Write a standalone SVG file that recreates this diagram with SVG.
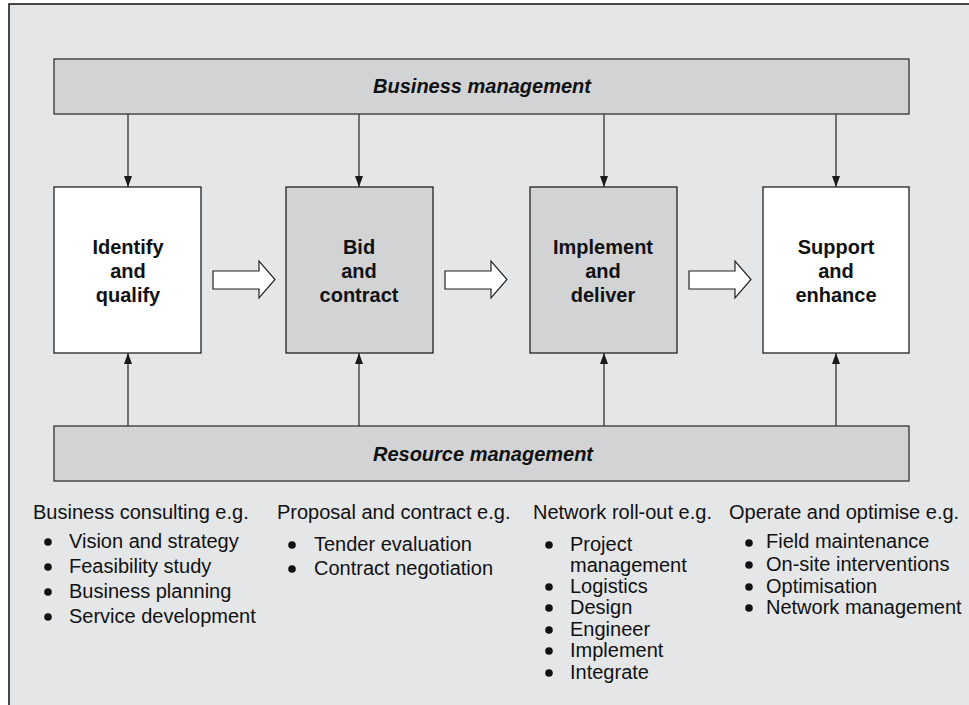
<svg xmlns="http://www.w3.org/2000/svg" width="969" height="705" viewBox="0 0 969 705">
<defs>
<marker id="ah" markerUnits="userSpaceOnUse" markerWidth="12" markerHeight="8" refX="11" refY="4" orient="auto">
<path d="M0,0 L11,4 L0,8 z" fill="#1a1a1a"/>
</marker>
<style>
.bar{fill:#d2d3d5;stroke:#333;stroke-width:1.3}
.box{stroke:#222;stroke-width:1.3}
.w{fill:#ffffff}
.g{fill:#d2d3d5}
.bt{font-family:"Liberation Sans",Arial,sans-serif;font-size:20px;font-weight:bold;text-anchor:middle;fill:#111}
.bi{font-family:"Liberation Sans",Arial,sans-serif;font-size:20px;font-weight:bold;font-style:italic;text-anchor:middle;fill:#111}
.t{font-family:"Liberation Sans",Arial,sans-serif;font-size:20px;fill:#111}
.conn{stroke:#333;stroke-width:1.3;fill:none;marker-end:url(#ah)}
.hol{fill:#ffffff;stroke:#222;stroke-width:1.2}
.dot{fill:#111}
</style>
</defs>
<rect x="9" y="4" width="975" height="720" fill="#e5e6e8" stroke="#111" stroke-width="1.5"/>

<g id="business-management">
<rect class="bar" x="54" y="59" width="855" height="55"/>
<text class="bi" x="482" y="93">Business management</text>
</g>
<g id="resource-management">
<rect class="bar" x="54" y="426" width="855" height="55"/>
<text class="bi" x="483" y="461">Resource management</text>
</g>

<g id="identify-qualify">
<rect class="box w" x="54" y="187" width="147" height="166"/>
<text class="bt" x="128" y="254">Identify</text>
<text class="bt" x="128" y="278">and</text>
<text class="bt" x="128" y="302">qualify</text>
</g>
<g id="bid-contract">
<rect class="box g" x="286" y="187" width="147" height="166"/>
<text class="bt" x="359" y="254">Bid</text>
<text class="bt" x="359" y="278">and</text>
<text class="bt" x="359" y="302">contract</text>
</g>
<g id="implement-deliver">
<rect class="box g" x="530" y="187" width="147" height="166"/>
<text class="bt" x="603" y="254">Implement</text>
<text class="bt" x="603" y="278">and</text>
<text class="bt" x="603" y="302">deliver</text>
</g>
<g id="support-enhance">
<rect class="box w" x="763" y="187" width="146" height="166"/>
<text class="bt" x="836" y="254">Support</text>
<text class="bt" x="836" y="278">and</text>
<text class="bt" x="836" y="302">enhance</text>
</g>

<g id="connectors">
<line class="conn" x1="128" y1="114" x2="128" y2="187"/>
<line class="conn" x1="359" y1="114" x2="359" y2="187"/>
<line class="conn" x1="604" y1="114" x2="604" y2="187"/>
<line class="conn" x1="836" y1="114" x2="836" y2="187"/>
<line class="conn" x1="128" y1="426" x2="128" y2="353"/>
<line class="conn" x1="359" y1="426" x2="359" y2="353"/>
<line class="conn" x1="604" y1="426" x2="604" y2="353"/>
<line class="conn" x1="836" y1="426" x2="836" y2="353"/>
<polygon class="hol" points="213,271 259,271 259,261 275,279.5 259,298 259,289 213,289"/>
<polygon class="hol" points="445,271 491,271 491,261 507,279.5 491,298 491,289 445,289"/>
<polygon class="hol" points="689,271 735,271 735,261 751,279.5 735,298 735,289 689,289"/>
</g>

<g id="col-business-consulting">
<text class="t" x="33" y="519">Business consulting e.g.</text>
<circle class="dot" cx="48" cy="542" r="3.8"/><text class="t" x="69" y="548">Vision and strategy</text>
<circle class="dot" cx="48" cy="567" r="3.8"/><text class="t" x="69" y="573">Feasibility study</text>
<circle class="dot" cx="48" cy="592" r="3.8"/><text class="t" x="69" y="598">Business planning</text>
<circle class="dot" cx="48" cy="617" r="3.8"/><text class="t" x="69" y="623">Service development</text>
</g>
<g id="col-proposal">
<text class="t" x="277" y="519">Proposal and contract e.g.</text>
<circle class="dot" cx="292" cy="545" r="3.8"/><text class="t" x="314" y="551">Tender evaluation</text>
<circle class="dot" cx="292" cy="569" r="3.8"/><text class="t" x="314" y="575">Contract negotiation</text>
</g>
<g id="col-network">
<text class="t" x="533" y="519">Network roll-out e.g.</text>
<circle class="dot" cx="549" cy="545" r="3.8"/><text class="t" x="570" y="551">Project</text>
<text class="t" x="570" y="572">management</text>
<circle class="dot" cx="549" cy="587" r="3.8"/><text class="t" x="570" y="593">Logistics</text>
<circle class="dot" cx="549" cy="608" r="3.8"/><text class="t" x="570" y="614">Design</text>
<circle class="dot" cx="549" cy="630" r="3.8"/><text class="t" x="570" y="636">Engineer</text>
<circle class="dot" cx="549" cy="651" r="3.8"/><text class="t" x="570" y="657">Implement</text>
<circle class="dot" cx="549" cy="673" r="3.8"/><text class="t" x="570" y="679">Integrate</text>
</g>
<g id="col-operate">
<text class="t" x="729" y="519">Operate and optimise e.g.</text>
<circle class="dot" cx="749" cy="543" r="3.8"/><text class="t" x="766" y="548">Field maintenance</text>
<circle class="dot" cx="749" cy="565" r="3.8"/><text class="t" x="766" y="571">On-site interventions</text>
<circle class="dot" cx="749" cy="587" r="3.8"/><text class="t" x="766" y="593">Optimisation</text>
<circle class="dot" cx="749" cy="608" r="3.8"/><text class="t" x="766" y="614">Network management</text>
</g>
</svg>
